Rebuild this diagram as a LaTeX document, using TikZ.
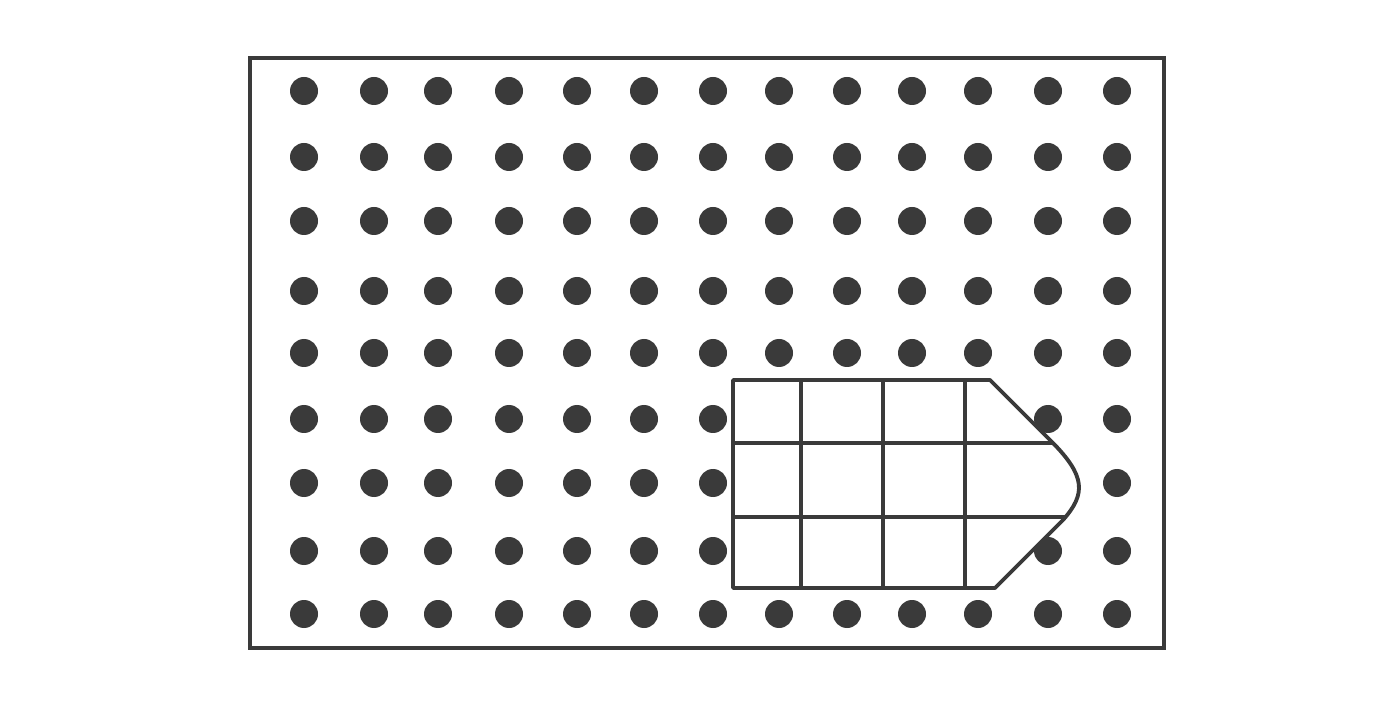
\documentclass[tikz,border=0pt]{standalone}
\begin{document}
\begin{tikzpicture}[x=0.02cm,y=-0.02cm]
\definecolor{ink}{HTML}{3A3A3A}
\tikzset{dotfill/.style={fill=ink},frameline/.style={draw=ink,line width=2pt},gridline/.style={draw=ink,line width=2.8pt},outline/.style={draw=ink,line width=2.2pt,line join=round}}
\useasboundingbox (0,0) rectangle (1400,709);
\fill[white] (0,0) rectangle (1400,709);
\draw[frameline] (250,58) rectangle (1164,648);
\foreach \x in {304,374,438,509,577,644,713,779,847,912,978,1048,1117}
  \foreach \y in {91,157,221,291,353,419,483,551,614}
    \fill[dotfill] (\x,\y) circle (14);
\def\shapepath{(733,380) -- (990,380) -- (1051,441) .. controls (1086,476) and (1086,494) .. (1063,520) -- (995,588) -- (733,588) -- cycle}
\fill[white] \shapepath;
\begin{scope}
\clip \shapepath;
\foreach \x in {801,883,965} \draw[gridline] (\x,370) -- (\x,600);
\foreach \y in {443,517} \draw[gridline] (720,\y) -- (1100,\y);
\end{scope}
\draw[outline] \shapepath;
\end{tikzpicture}
\end{document}
